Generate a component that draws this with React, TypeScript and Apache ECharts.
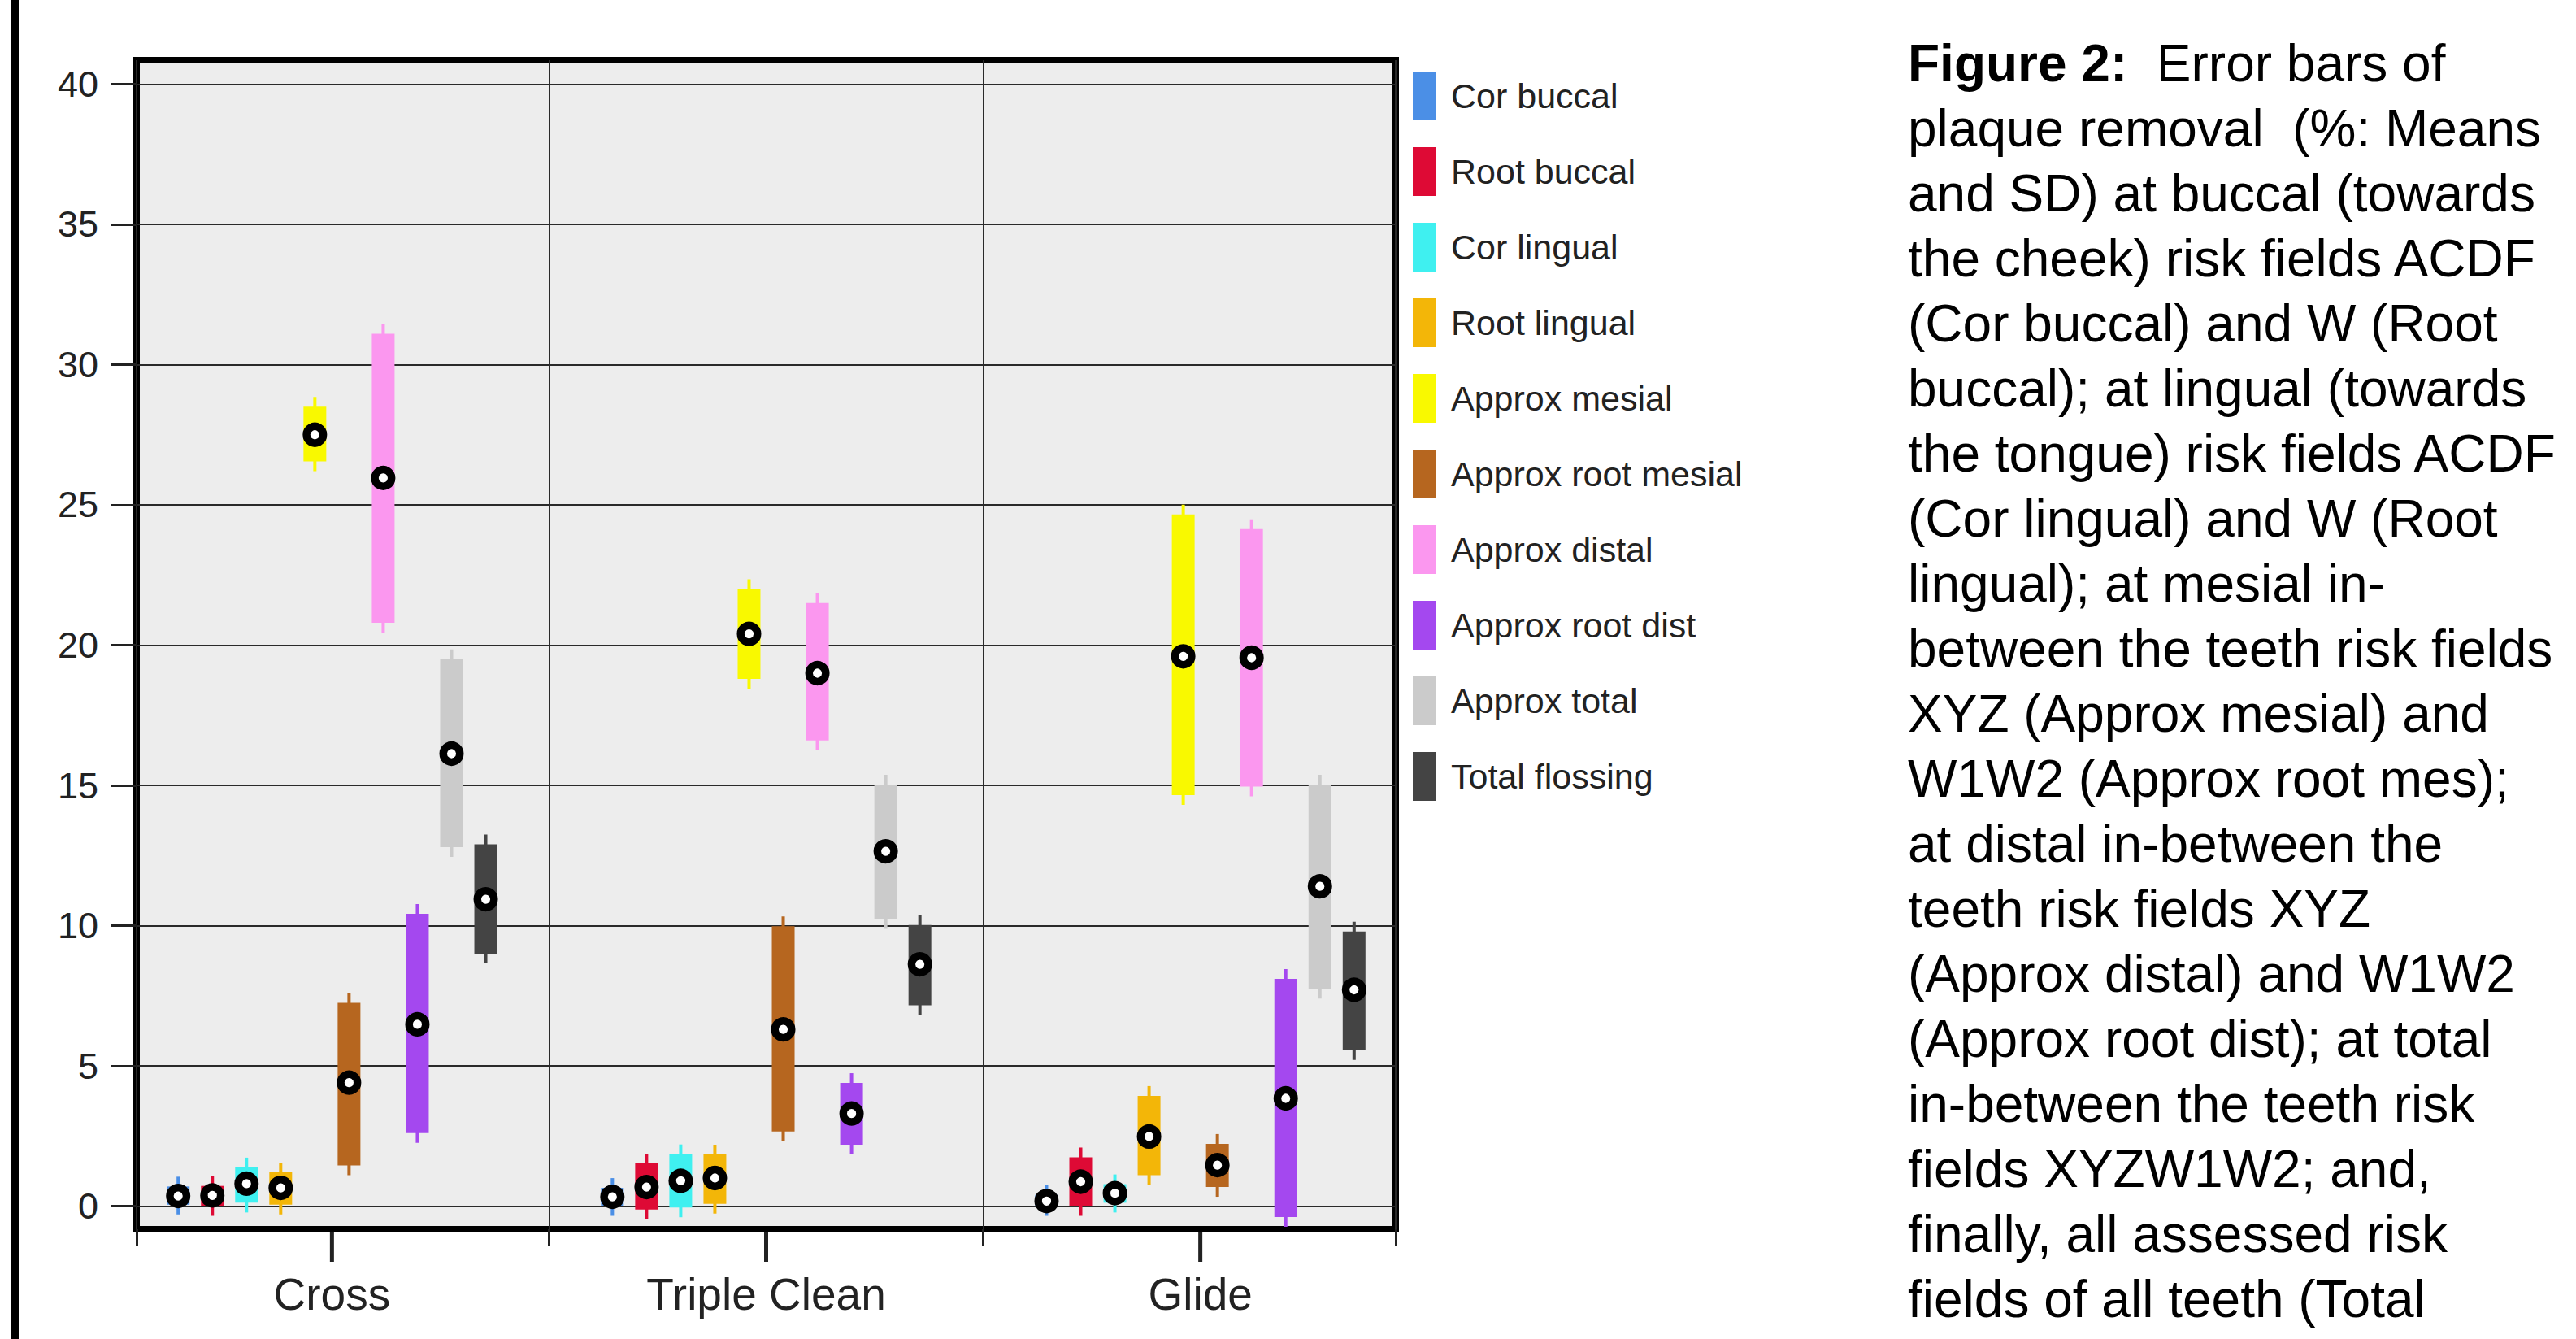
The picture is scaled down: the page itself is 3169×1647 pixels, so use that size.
import React, { useEffect, useRef } from "react";
import * as echarts from "echarts";

// ---------- data ----------
const categories = ["Cross", "Triple Clean", "Glide"];
const seriesNames = [
  "Cor buccal",
  "Root buccal",
  "Cor lingual",
  "Root lingual",
  "Approx mesial",
  "Approx root mesial",
  "Approx distal",
  "Approx root dist",
  "Approx total",
  "Total flossing",
];
const seriesColors = [
  "#4b8fe6",
  "#de0a35",
  "#3ff0f0",
  "#f3b608",
  "#f9f900",
  "#b6661f",
  "#fb97ef",
  "#a448ef",
  "#cbcbcb",
  "#444444",
];
// mean, lower (mean - SD) and upper (mean + SD) per category, in series order
const crossMean = [0.36, 0.38, 0.8, 0.65, 27.5, 4.4, 25.96, 6.48, 16.13, 10.94];
const crossLow = [0.05, 0.0, 0.12, 0.05, 26.55, 1.45, 20.8, 2.6, 12.8, 9.0];
const crossHigh = [0.7, 0.72, 1.38, 1.2, 28.5, 7.25, 31.1, 10.42, 19.5, 12.9];
const tripleMean = [0.33, 0.68, 0.9, 1.0, 20.4, 6.3, 19.0, 3.3, 12.65, 8.62];
const tripleLow = [0.0, -0.12, -0.05, 0.08, 18.8, 2.66, 16.6, 2.19, 10.23, 7.16];
const tripleHigh = [0.65, 1.52, 1.85, 1.84, 22.0, 9.98, 21.5, 4.39, 15.03, 10.02];
const glideMean = [0.18, 0.87, 0.46, 2.48, 19.6, 1.46, 19.55, 3.84, 11.4, 7.71];
const glideLow = [0.0, 0.0, 0.12, 1.1, 14.65, 0.68, 14.96, -0.39, 7.75, 5.56];
const glideHigh = [0.4, 1.74, 0.78, 3.93, 24.66, 2.22, 24.14, 8.1, 15.03, 9.79];
const yTicks = [0, 5, 10, 15, 20, 25, 30, 35, 40];
const captionLines = [
  "{b|Figure 2:}  Error bars of",
  "plaque removal  (%: Means",
  "and SD) at buccal (towards",
  "the cheek) risk fields ACDF",
  "(Cor buccal) and W (Root",
  "buccal); at lingual (towards",
  "the tongue) risk fields ACDF",
  "(Cor lingual) and W (Root",
  "lingual); at mesial in-",
  "between the teeth risk fields",
  "XYZ (Approx mesial) and",
  "W1W2 (Approx root mes);",
  "at distal in-between the",
  "teeth risk fields XYZ",
  "(Approx distal) and W1W2",
  "(Approx root dist); at total",
  "in-between the teeth risk",
  "fields XYZW1W2; and,",
  "finally, all assessed risk",
  "fields of all teeth (Total",
];

// ---------- layout ----------
const W = 3169;
const H = 1647;
const FONT = "'Liberation Sans', Arial, Helvetica, sans-serif";
const X_MIN = -0.45;
const X_MAX = 2.45;
const Y_MIN = -0.826;
const Y_MAX = 40.855;
const SLOT = 0.0787;

export default function App() {
  const ref = useRef<HTMLDivElement>(null);

  useEffect(() => {
    if (!ref.current) return;
    const chart = echarts.init(ref.current, null, { renderer: "svg" });
    const means = [crossMean, tripleMean, glideMean];
    const lows = [crossLow, tripleLow, glideLow];
    const highs = [crossHigh, tripleHigh, glideHigh];

    const series: any[] = seriesNames.map((name, si) => ({
      type: "custom",
      name,
      xAxisIndex: 0,
      yAxisIndex: 0,
      clip: false,
      itemStyle: { color: seriesColors[si] },
      encode: { x: 0, y: [1, 2, 3] },
      data: categories.map((_, ci) => [
        ci + (si - 4.5) * SLOT,
        means[ci][si],
        lows[ci][si],
        highs[ci][si],
      ]),
      renderItem: (params: any, api: any) => {
        const x = api.value(0);
        const pM = api.coord([x, api.value(1)]);
        const pL = api.coord([x, api.value(2)]);
        const pH = api.coord([x, api.value(3)]);
        const color = seriesColors[si];
        return {
          type: "group",
          children: [
            {
              type: "line",
              shape: { x1: pM[0], y1: pH[1] - 12, x2: pM[0], y2: pL[1] + 12 },
              style: { stroke: color, lineWidth: 4 },
            },
            {
              type: "rect",
              shape: { x: pM[0] - 14, y: pH[1], width: 28, height: pL[1] - pH[1] },
              style: { fill: color },
            },
            {
              type: "circle",
              shape: { cx: pM[0], cy: pM[1], r: 10.3 },
              style: { fill: "#ffffff", stroke: "#000000", lineWidth: 9.4 },
            },
          ],
        };
      },
    }));

    const graphic: any[] = [
      {
        id: "pageBorder",
        type: "rect",
        shape: { x: 14, y: 0, width: 9, height: H },
        style: { fill: "#000000" },
      },
    ];
    captionLines.forEach((line, i) => {
      graphic.push({
        id: "cap" + i,
        type: "text",
        x: 2347,
        y: 78 + i * 80,
        style: {
          text: line,
          fill: "#000000",
          fontSize: 64,
          fontFamily: FONT,
          verticalAlign: "middle",
          align: "left",
          rich: {
            b: { fontSize: 64, fontWeight: "bold", fontFamily: FONT, fill: "#000000" },
          },
        },
      });
    });

    chart.setOption({
      animation: false,
      backgroundColor: "#ffffff",
      grid: {
        left: 168,
        top: 74,
        width: 1549,
        height: 1438,
        show: true,
        backgroundColor: "#ededed",
        borderColor: "#000000",
        borderWidth: 8,
      },
      legend: {
        orient: "vertical",
        left: 1733,
        top: 83,
        itemWidth: 29,
        itemHeight: 60,
        itemGap: 33,
        icon: "rect",
        selectedMode: false,
        data: seriesNames,
        textStyle: {
          fontSize: 43,
          color: "#222222",
          fontFamily: FONT,
          padding: [0, 0, 0, 13],
        },
      },
      xAxis: [
        {
          type: "value",
          min: X_MIN,
          max: X_MAX,
          position: "bottom",
          axisLine: { show: false, onZero: false },
          axisTick: { show: false },
          axisLabel: {
            show: true,
            customValues: [0, 1, 2],
            formatter: (v: number) => categories[Math.round(v)] ?? "",
            fontSize: 55,
            color: "#222222",
            fontFamily: FONT,
            margin: 52,
          },
          splitLine: { show: false },
        },
        {
          type: "value",
          min: X_MIN,
          max: X_MAX,
          position: "bottom",
          axisLine: { show: false, onZero: false },
          axisTick: {
            show: true,
            customValues: [X_MIN, 0.5, 1.5, X_MAX],
            length: 20,
            lineStyle: { color: "#222222", width: 3 },
          },
          axisLabel: { show: false },
          splitLine: { show: true, lineStyle: { color: "#2a2a2a", width: 2 } },
        },
      ],
      yAxis: {
        type: "value",
        min: Y_MIN,
        max: Y_MAX,
        position: "left",
        axisLine: { show: false, onZero: false },
        axisTick: {
          show: true,
          customValues: yTicks,
          length: 32,
          lineStyle: { color: "#222222", width: 3 },
        },
        axisLabel: {
          show: true,
          customValues: yTicks,
          margin: 47,
          fontSize: 45,
          color: "#222222",
          fontFamily: FONT,
        },
        splitLine: { show: true, lineStyle: { color: "#2a2a2a", width: 2 } },
      },
      graphic,
      series,
    } as any);

    // category ticks below the frame, positioned through the chart's own x/y scales
    const tickGraphics = categories.map((_, ci) => {
      const p = chart.convertToPixel({ xAxisIndex: 0, yAxisIndex: 0 } as any, [ci, Y_MIN]) as number[];
      return {
        id: "catTick" + ci,
        type: "rect",
        z: 100,
        shape: { x: p[0] - 2.5, y: p[1] + 4, width: 5, height: 36 },
        style: { fill: "#222222" },
      };
    });
    chart.setOption({ graphic: tickGraphics } as any);

    return () => chart.dispose();
  }, []);

  return (
    <div
      ref={ref}
      style={{ position: "fixed", left: 0, top: 0, width: W, height: H, background: "#ffffff" }}
    />
  );
}
